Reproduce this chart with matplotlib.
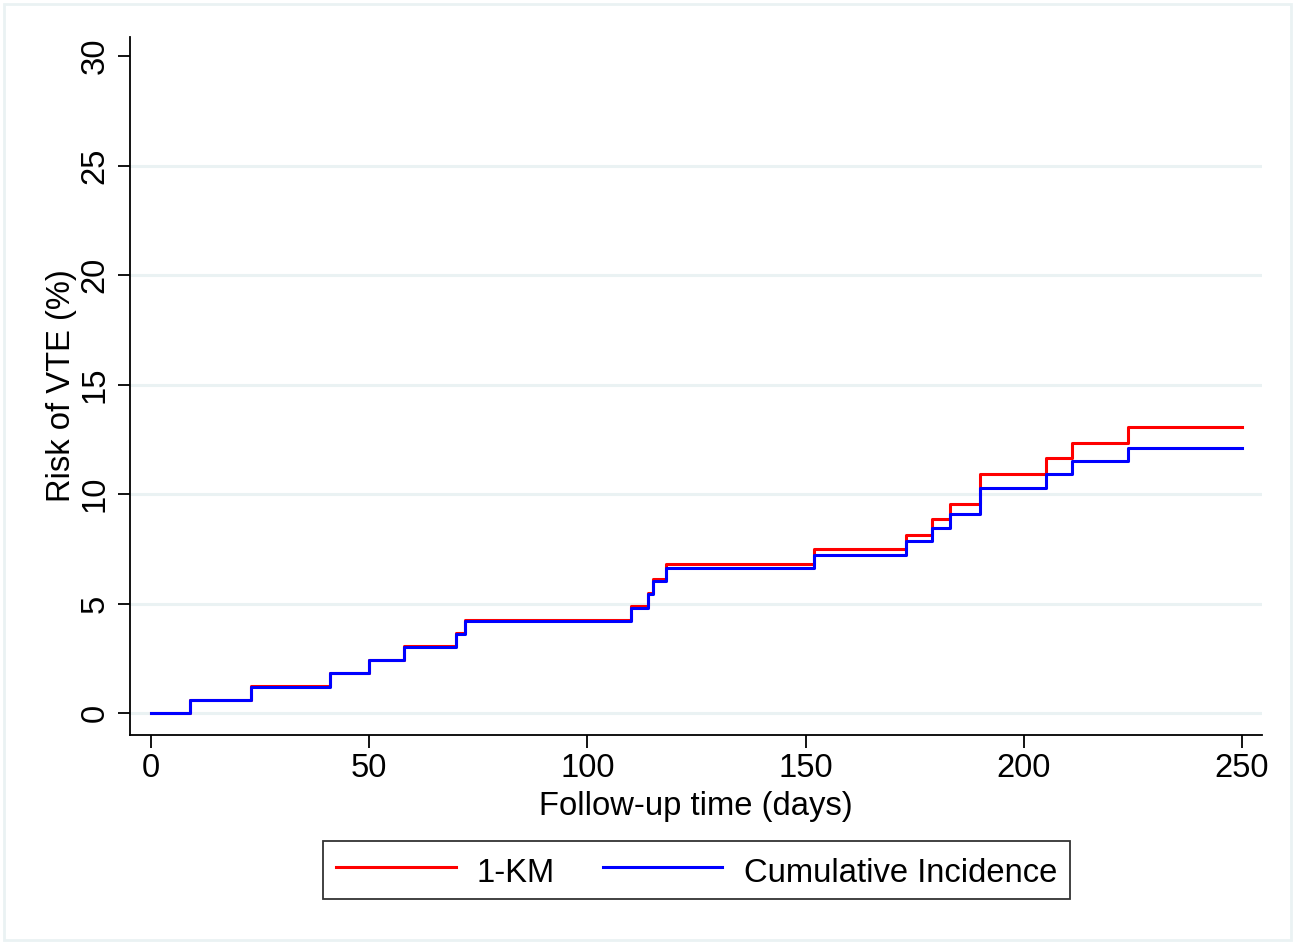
import matplotlib
matplotlib.use("Agg")
import matplotlib.pyplot as plt
from matplotlib.patches import Rectangle

# step times (days) and risk (%)
times = [0, 9, 23, 41, 50, 58, 70, 72, 110, 114, 115, 118, 152, 173, 179, 183, 190, 205, 211, 224, 250]
km_risk = [0, 0.61, 1.22, 1.83, 2.44, 3.05, 3.66, 4.27, 4.89, 5.50, 6.12, 6.80, 7.48, 8.15, 8.86, 9.54,
           10.92, 11.63, 12.33, 13.05, 13.05]
ci_risk = [0, 0.61, 1.21, 1.82, 2.42, 3.03, 3.60, 4.21, 4.80, 5.42, 6.03, 6.62, 7.23, 7.84, 8.47, 9.07,
           10.29, 10.91, 11.52, 12.12, 12.12]

y_ticks = [0, 5, 10, 15, 20, 25, 30]
x_ticks = [0, 50, 100, 150, 200, 250]

plt.rcParams['font.family'] = ['Liberation Sans', 'DejaVu Sans']
grid_col = '#eaf2f3'
fs = 23.6

fig = plt.figure(figsize=(12.95, 9.44), dpi=100)
fig.patches.append(Rectangle((4 / 1295, 4 / 944), 1287 / 1295, 936 / 944, transform=fig.transFigure,
                             fill=False, edgecolor=grid_col, linewidth=2))

ax = fig.add_axes([130 / 1295, 1 - 735 / 944, 1132 / 1295, 698 / 944])

for yv in y_ticks[:-1]:
    ax.axhline(yv, color=grid_col, lw=2.2, zorder=0)

ax.step(times, km_risk, where='post', color='#ff0000', lw=2.2, label='1-KM')
ax.step(times, ci_risk, where='post', color='#0000ff', lw=2.2, label='Cumulative Incidence')

ax.set_xlim(-4.8, 254.6)
ax.set_ylim(-1.0, 30.87)
ax.set_xticks(x_ticks)
ax.set_yticks(y_ticks)
ax.set_yticklabels([str(v) for v in y_ticks], rotation=90, va='center')
ax.tick_params(axis='both', labelsize=fs, length=9, width=1.3, color='black')
ax.tick_params(axis='y', pad=5)
ax.tick_params(axis='x', pad=4)

for s in ['top', 'right']:
    ax.spines[s].set_visible(False)
for s in ['left', 'bottom']:
    ax.spines[s].set_linewidth(1.3)

ax.set_xlabel('Follow-up time (days)', fontsize=fs, labelpad=5)
ax.set_ylabel('Risk of VTE (%)', fontsize=fs, labelpad=2)

leg = fig.legend(loc='center', bbox_to_anchor=(696.5 / 1295, 1 - 870 / 944), ncol=2, fontsize=fs,
                 frameon=True, fancybox=False, edgecolor='black', handlelength=3.65,
                 handletextpad=0.65, columnspacing=1.45, borderpad=0.4)
leg.get_frame().set_linewidth(1.3)
for h in leg.get_lines():
    h.set_linewidth(2.2)
for t in leg.get_texts():
    t.set_y(-3)

fig.savefig('out.png', dpi=100)
